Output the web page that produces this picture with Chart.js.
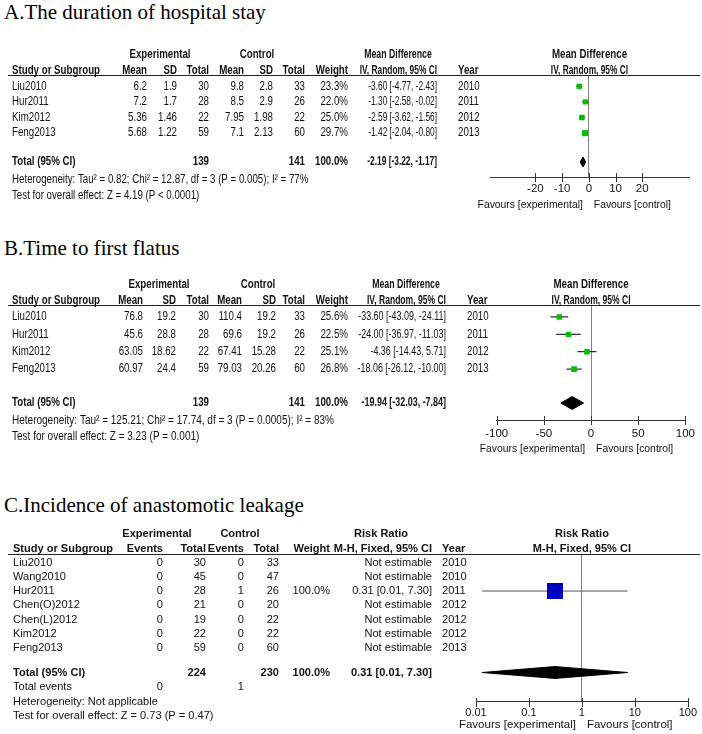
<!DOCTYPE html>
<html>
<head>
<meta charset="utf-8">
<script src="https://cdn.jsdelivr.net/npm/chart.js@4.4.1/dist/chart.umd.min.js"></script>
<style>
  body { margin: 0; background: #fff; width: 702px; height: 734px; position: relative; overflow: hidden; }
  canvas { position: absolute; left: 0; }
  .title { position: absolute; left: 4px; font: 21px "Liberation Serif", "Times New Roman", serif; color: #000; white-space: nowrap; }
</style>
</head>
<body>
<div class="title" style="top:0px">A.The duration of hospital stay</div>
<div class="title" style="top:236px">B.Time to first flatus</div>
<div class="title" style="top:493px">C.Incidence of anastomotic leakage</div>
<canvas id="cA" width="702" height="192" style="top:30px"></canvas>
<canvas id="cB" width="702" height="195" style="top:265px"></canvas>
<canvas id="cC" width="702" height="214" style="top:520px"></canvas>
<script>
// A. duration of hospital stay
const studiesA = ['Liu2010', 'Hur2011', 'Kim2012', 'Feng2013'];
const expMeanA = [6.2, 7.2, 5.36, 5.68];
const expSdA = [1.9, 1.7, 1.46, 1.22];
const expNA = [30, 28, 22, 59];
const ctlMeanA = [9.8, 8.5, 7.95, 7.1];
const ctlSdA = [2.8, 2.9, 1.98, 2.13];
const ctlNA = [33, 26, 22, 60];
const weightA = [23.3, 22.0, 25.0, 29.7];
const mdA = [-3.60, -1.30, -2.59, -1.42];
const loA = [-4.77, -2.58, -3.62, -2.04];
const hiA = [-2.43, -0.02, -1.56, -0.80];
const yearA = [2010, 2011, 2012, 2013];
const totalNA = [139, 141];
const totalMdA = [-2.19, -3.22, -1.17]; // estimate, lower, upper
const hetA = 'Heterogeneity: Tau\u00b2 = 0.82; Chi\u00b2 = 12.87, df = 3 (P = 0.005); I\u00b2 = 77%';
const testA = 'Test for overall effect: Z = 4.19 (P < 0.0001)';
const ticksA = [-20, -10, 0, 10, 20];

// B. time to first flatus
const studiesB = ['Liu2010', 'Hur2011', 'Kim2012', 'Feng2013'];
const expMeanB = [76.8, 45.6, 63.05, 60.97];
const expSdB = [19.2, 28.8, 18.62, 24.4];
const expNB = [30, 28, 22, 59];
const ctlMeanB = [110.4, 69.6, 67.41, 79.03];
const ctlSdB = [19.2, 19.2, 15.28, 20.26];
const ctlNB = [33, 26, 22, 60];
const weightB = [25.6, 22.5, 25.1, 26.8];
const mdB = [-33.60, -24.00, -4.36, -18.06];
const loB = [-43.09, -36.97, -14.43, -26.12];
const hiB = [-24.11, -11.03, 5.71, -10.00];
const yearB = [2010, 2011, 2012, 2013];
const totalNB = [139, 141];
const totalMdB = [-19.94, -32.03, -7.84];
const hetB = 'Heterogeneity: Tau\u00b2 = 125.21; Chi\u00b2 = 17.74, df = 3 (P = 0.0005); I\u00b2 = 83%';
const testB = 'Test for overall effect: Z = 3.23 (P = 0.001)';
const ticksB = [-100, -50, 0, 50, 100];

// C. anastomotic leakage
const studiesC = ['Liu2010', 'Wang2010', 'Hur2011', 'Chen(O)2012', 'Chen(L)2012', 'Kim2012', 'Feng2013'];
const expEvC = [0, 0, 0, 0, 0, 0, 0];
const expNC = [30, 45, 28, 21, 19, 22, 59];
const ctlEvC = [0, 0, 1, 0, 0, 0, 0];
const ctlNC = [33, 47, 26, 20, 22, 22, 60];
const weightC = [null, null, 100.0, null, null, null, null];
const rrC = [null, null, 0.31, null, null, null, null];
const loC = [null, null, 0.013, null, null, null, null];
const hiC = [null, null, 7.30, null, null, null, null];
const yearC = [2010, 2010, 2011, 2012, 2012, 2012, 2013];
const totalNC = [224, 230];
const totalEvC = [0, 1];
const totalRrC = [0.31, 0.013, 7.30];
const hetC = 'Heterogeneity: Not applicable';
const testC = 'Test for overall effect: Z = 0.73 (P = 0.47)';
const ticksC = [0.01, 0.1, 1, 10, 100];

const FAMILY = '"Liberation Sans", Arial, sans-serif';
Chart.defaults.font.family = FAMILY;

const f2 = v => v.toFixed(2);
const ci = (m, l, h) => `${f2(m)} [${f2(l)}, ${f2(h)}]`;
const pct = w => w == null ? '' : w.toFixed(1) + '%';

function txt(ctx, s, x, y, align, bold, g, k) {
  if (!s) return;
  ctx.save();
  ctx.font = (bold ? 'bold ' : '') + g.fs + 'px ' + FAMILY;
  ctx.fillStyle = '#111';
  ctx.textBaseline = 'middle';
  ctx.textAlign = align;
  ctx.translate(x, y);
  ctx.scale(g.sx * (k || 1), 1);
  ctx.fillText(s, 0, 0);
  ctx.restore();
}

function panel(id, g, spec) {
  const yMin = -(g.firstRowY - g.lineY) / g.pitch;
  const yMax = yMin + (g.axisY - g.lineY) / g.pitch;
  const totalV = yMin + (g.totalY - g.lineY) / g.pitch;
  const H = document.getElementById(id).height;
  const axisH = 30;

  const datasets = [];
  const pts = [];
  spec.est.forEach((v, i) => { if (v != null) pts.push({ x: v, y: i, w: spec.weight[i] }); });
  datasets.push({
    type: 'scatter', data: pts, order: 0,
    pointStyle: 'rect', backgroundColor: spec.color, borderWidth: 0,
    pointRadius: c => g.sq * Math.sqrt(c.raw.w) / Math.SQRT2
  });
  spec.est.forEach((v, i) => {
    if (v == null) return;
    datasets.push({
      type: 'line', data: [{ x: spec.lo[i], y: i }, { x: spec.hi[i], y: i }], order: 2,
      borderColor: g.ciColor, borderWidth: 1, pointRadius: 0, fill: false
    });
  });
  const [te, tl, th] = spec.total;
  datasets.push({
    type: 'line', order: 1, borderColor: '#000', borderWidth: 1, pointRadius: 0, fill: false,
    data: [{ x: tl, y: totalV }, { x: te, y: totalV - g.dia }, { x: th, y: totalV }]
  });
  datasets.push({
    type: 'line', order: 1, borderColor: '#000', borderWidth: 1, pointRadius: 0,
    fill: '-1', backgroundColor: '#000',
    data: [{ x: tl, y: totalV }, { x: te, y: totalV + g.dia }, { x: th, y: totalV }]
  });

  const tablePlugin = {
    id: 'table_' + id,
    afterDraw(chart) {
      const ctx = chart.ctx;
      const ca = chart.chartArea;
      const xs = chart.scales.x, ys = chart.scales.y;
      // header rule
      ctx.save();
      ctx.strokeStyle = '#222';
      ctx.lineWidth = 1;
      const ly = Math.round(ca.top) + 0.5;
      ctx.beginPath(); ctx.moveTo(8, ly); ctx.lineTo(700, ly); ctx.stroke();
      // tick marks crossing the axis
      ctx.strokeStyle = '#333';
      const ay = Math.round(ca.bottom);
      xs.ticks.forEach(t => {
        const px = Math.round(xs.getPixelForValue(t.value)) + 0.5;
        ctx.beginPath(); ctx.moveTo(px, ay - 4); ctx.lineTo(px, ay + 5); ctx.stroke();
      });
      ctx.restore();

      const cols = g.cols;
      // header rows
      spec.group.forEach(h => txt(ctx, h[0], h[1], ca.top - g.h1, 'center', true, g, h[2]));
      const mid = (ca.left + ca.right) / 2;
      txt(ctx, spec.plotHead[0], mid, ca.top - g.h1, 'center', true, g);
      txt(ctx, spec.plotHead[1], mid, ca.top - g.h2, 'center', true, g, g.ciK);
      spec.head.forEach((h, j) => txt(ctx, h, cols[j][0], ca.top - g.h2, cols[j][1], true, g, j === 8 ? g.ciK : cols[j][2]));
      // study rows
      spec.rows.forEach((r, i) => {
        const y = ys.getPixelForValue(i);
        r.forEach((s, j) => txt(ctx, s, cols[j][0], y, cols[j][1], false, g, cols[j][2]));
      });
      // total row + footers
      const ty = ys.getPixelForValue(totalV);
      spec.totalRow.forEach((s, j) => txt(ctx, s, cols[j][0], ty, cols[j][1], true, g, cols[j][2]));
      spec.foot.forEach((r, k) => {
        r.forEach((s, j) => txt(ctx, s, cols[j][0], ty + g.footOff[k], cols[j][1], false, g, j ? cols[j][2] : g.footK));
      });
      // favours labels
      const zx = xs.getPixelForValue(spec.ref);
      const fg = Object.assign({}, g, { fs: g.favFs, sx: g.favSx });
      txt(ctx, 'Favours [experimental]', zx - 6, ca.bottom + g.favOff, 'right', false, fg);
      txt(ctx, 'Favours [control]', zx + 5, ca.bottom + g.favOff, 'left', false, fg);
    }
  };

  return new Chart(document.getElementById(id), {
    type: 'line',
    data: { datasets },
    options: {
      responsive: false, animation: false, events: [],
      layout: { padding: { left: g.plotL, right: 702 - g.plotR, top: g.lineY - g.top, bottom: H - (g.axisY - g.top) - axisH } },
      plugins: { legend: { display: false }, tooltip: { enabled: false } },
      scales: {
        x: {
          type: spec.logX ? 'logarithmic' : 'linear',
          min: spec.xMin, max: spec.xMax, position: 'bottom',
          afterBuildTicks: s => { s.ticks = spec.ticks.map(v => ({ value: v })); },
          afterFit: s => { s.height = axisH; },
          grid: { drawTicks: false, lineWidth: 1, color: c => (c.tick && c.tick.value === spec.ref) ? '#808080' : 'rgba(0,0,0,0)' },
          border: { display: true, color: '#333', width: 1 },
          ticks: { autoSkip: false, maxRotation: 0, padding: g.tickPad, color: '#111', font: { size: g.tickFs }, callback: v => String(v) }
        },
        y: { type: 'linear', display: false, reverse: true, min: yMin, max: yMax }
      }
    },
    plugins: [tablePlugin]
  });
}

// ---- panel A
panel('cA', {
  top: 30, lineY: 75, axisY: 177, plotL: 490, plotR: 689, firstRowY: 86.3, pitch: 15.6, totalY: 162,
  footOff: [18, 34], footK: 1, h1: 20, h2: 4, fs: 12, sx: 0.81, ciK: 0.86,
  favFs: 11.5, favSx: 0.9, favOff: 28, tickPad: 5, tickFs: 11.5,
  sq: 1.1, dia: 0.32, ciColor: '#000',
  cols: [[12, 'left'], [147, 'right'], [177, 'right'], [209, 'right'], [244, 'right'], [273, 'right'], [305, 'right'], [348, 'right'], [437, 'right', 0.86], [458, 'left']]
}, {
  est: mdA, lo: loA, hi: hiA, weight: weightA, color: '#00c000', ref: 0,
  xMin: -37, xMax: 37.5, ticks: ticksA, total: totalMdA,
  group: [['Experimental', 160], ['Control', 257], ['Mean Difference', 398, 0.9]],
  plotHead: ['Mean Difference', 'IV, Random, 95% CI'],
  head: ['Study or Subgroup', 'Mean', 'SD', 'Total', 'Mean', 'SD', 'Total', 'Weight', 'IV, Random, 95% CI', 'Year'],
  rows: studiesA.map((s, i) => [s, String(expMeanA[i]), String(expSdA[i]), String(expNA[i]), String(ctlMeanA[i]), String(ctlSdA[i]), String(ctlNA[i]), pct(weightA[i]), ci(mdA[i], loA[i], hiA[i]), String(yearA[i])]),
  totalRow: ['Total (95% CI)', '', '', String(totalNA[0]), '', '', String(totalNA[1]), '100.0%', ci(...totalMdA), ''],
  foot: [[hetA], [testA]]
});

// ---- panel B
panel('cB', {
  top: 265, lineY: 305, axisY: 420, plotL: 496.7, plotR: 689, firstRowY: 316.9, pitch: 17.4, totalY: 403,
  footOff: [18, 34], footK: 1.03, h1: 20, h2: 4, fs: 12, sx: 0.81, ciK: 0.88,
  favFs: 11.5, favSx: 0.9, favOff: 29, tickPad: 7, tickFs: 11.5,
  sq: 1.09, dia: 0.37, ciColor: '#000',
  cols: [[12, 'left'], [143, 'right'], [176, 'right'], [209, 'right'], [242, 'right'], [276, 'right'], [305, 'right'], [348, 'right'], [446, 'right', 0.92], [467, 'left']]
}, {
  est: mdB, lo: loB, hi: hiB, weight: weightB, color: '#00c000', ref: 0,
  xMin: -100, xMax: 100, ticks: ticksB, total: totalMdB,
  group: [['Experimental', 159], ['Control', 258], ['Mean Difference', 406, 0.9]],
  plotHead: ['Mean Difference', 'IV, Random, 95% CI'],
  head: ['Study or Subgroup', 'Mean', 'SD', 'Total', 'Mean', 'SD', 'Total', 'Weight', 'IV, Random, 95% CI', 'Year'],
  rows: studiesB.map((s, i) => [s, String(expMeanB[i]), String(expSdB[i]), String(expNB[i]), String(ctlMeanB[i]), String(ctlSdB[i]), String(ctlNB[i]), pct(weightB[i]), ci(mdB[i], loB[i], hiB[i]), String(yearB[i])]),
  totalRow: ['Total (95% CI)', '', '', String(totalNB[0]), '', '', String(totalNB[1]), '100.0%', ci(...totalMdB), ''],
  foot: [[hetB], [testB]]
});

// ---- panel C
panel('cC', {
  top: 520, lineY: 553.5, axisY: 701.7, plotL: 476, plotR: 688.3, firstRowY: 562.7, pitch: 14.17, totalY: 672.5,
  footOff: [14.7, 29.5, 43.8], footK: 1, h1: 19.5, h2: 4.5, fs: 11.5, sx: 0.96, ciK: 1,
  favFs: 11.5, favSx: 1, favOff: 23, tickPad: 5, tickFs: 11,
  sq: 1.6, dia: 0.42, ciColor: '#555',
  cols: [[13, 'left'], [163, 'right'], [206, 'right'], [244, 'right'], [279, 'right'], [330, 'right'], [432, 'right'], [442, 'left']]
}, {
  est: rrC, lo: loC, hi: hiC, weight: weightC, color: '#0000c0', ref: 1, logX: true,
  xMin: 0.01, xMax: 100, ticks: ticksC, total: totalRrC,
  group: [['Experimental', 157], ['Control', 240], ['Risk Ratio', 381]],
  plotHead: ['Risk Ratio', 'M-H, Fixed, 95% CI'],
  head: ['Study or Subgroup', 'Events', 'Total', 'Events', 'Total', 'Weight', 'M-H, Fixed, 95% CI', 'Year'],
  rows: studiesC.map((s, i) => [s, String(expEvC[i]), String(expNC[i]), String(ctlEvC[i]), String(ctlNC[i]), pct(weightC[i]),
    rrC[i] == null ? 'Not estimable' : ci(rrC[i], loC[i], hiC[i]), String(yearC[i])]),
  totalRow: ['Total (95% CI)', '', String(totalNC[0]), '', String(totalNC[1]), '100.0%', ci(...totalRrC), ''],
  foot: [['Total events', String(totalEvC[0]), '', String(totalEvC[1])], [hetC], [testC]]
});
</script>
</body>
</html>
